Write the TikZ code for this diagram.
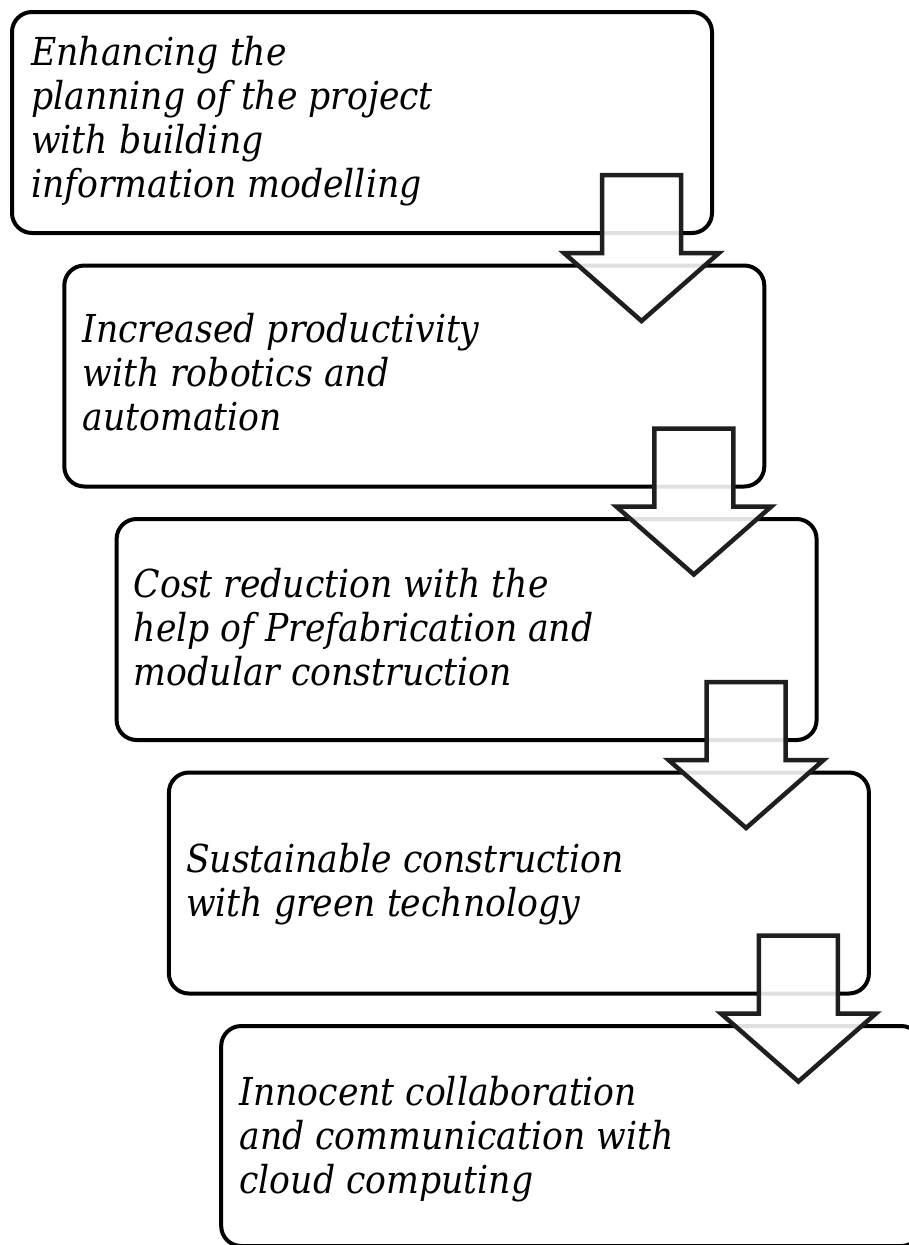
\documentclass[tikz,border=0pt]{standalone}
\usepackage{fontspec}
\setmainfont{DejaVu Serif Condensed}
\usetikzlibrary{calc}
\tikzset{
  stepbox/.style={draw=black, line width=4pt, rounded corners=20pt, fill=white,
    rectangle, minimum width=700pt, minimum height=221pt, inner sep=0pt, anchor=north west},
  steptext/.style={anchor=base west, inner sep=0pt,
    font=\fontsize{38.5pt}{44pt}\selectfont\itshape},
  arrowshape/.style={draw=black!88, line width=4.5pt, fill=white, fill opacity=0.88,
    line join=miter},
  blockarrow/.pic={\path[arrowshape] (-39.5,0) -- (39.5,0) -- (39.5,78) -- (77.5,78)
    -- (0,146) -- (-77.5,78) -- (-39.5,78) -- cycle;}
}
\newcommand{\steplines}[1]{\parbox[t]{660pt}{\raggedright #1}}
\begin{document}
\begin{tikzpicture}[x=1pt, y=-1pt]
\useasboundingbox (0,0) rectangle (909,1245);
\clip (0,0) rectangle (909,1245);
\fill[white] (0,0) rectangle (909,1245);
% boxes
\node[stepbox] (b1) at (10,10) {};
\node[stepbox] (b2) at (62.3,263.5) {};
\node[stepbox] (b3) at (114.6,517) {};
\node[stepbox] (b4) at (166.9,770.5) {};
\node[stepbox, minimum height=220pt] (b5) at (219.2,1024) {};
% texts
\node[steptext] (t1) at ($(b1.north west)+(21,55)$) {\steplines{Enhancing the\\planning of the project\\with building\\information modelling}};
\node[steptext] (t2) at ($(b2.north west)+(20,79)$) {\steplines{Increased productivity\\with robotics and\\automation}};
\node[steptext] (t3) at ($(b3.north west)+(19,80)$) {\steplines{Cost reduction with the\\help of Prefabrication and\\modular construction}};
\node[steptext] (t4) at ($(b4.north west)+(19,101.5)$) {\steplines{Sustainable construction\\with green technology}};
\node[steptext] (t5) at ($(b5.north west)+(20,81)$) {\steplines{Innocent collaboration\\and communication with\\cloud computing}};
% arrows
\pic at ($(b1.south east)+(-72.5,-60)$) {blockarrow};
\pic at ($(b2.south east)+(-72.5,-60)$) {blockarrow};
\pic at ($(b3.south east)+(-72.5,-60)$) {blockarrow};
\pic at ($(b4.south east)+(-72.5,-60)$) {blockarrow};
\end{tikzpicture}
\end{document}
